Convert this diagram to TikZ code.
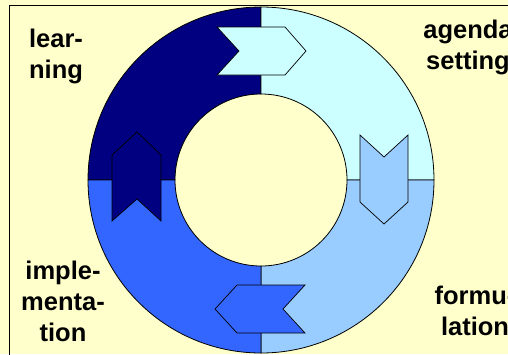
\documentclass[tikz,border=0pt]{standalone}
\usepackage{fontspec}
\setmainfont{Liberation Sans}
\usetikzlibrary{positioning}
\definecolor{paper}{HTML}{FFFFCC}
\definecolor{navyq}{HTML}{000080}
\definecolor{cyanq}{HTML}{CCFFFF}
\definecolor{skyq}{HTML}{99CCFF}
\definecolor{blueq}{HTML}{3366FF}
\tikzset{
  sector/.style={draw=black, line width=0.8pt},
  chevron/.style={draw=black, line width=0.7pt, line join=miter},
  phase/.style={font=\bfseries\fontsize{25.5}{31}\selectfont, align=center, inner sep=0pt, text=black}
}

\begin{document}
\begin{tikzpicture}[x=1pt, y=-1pt]
  \useasboundingbox (0,0) rectangle (508,354);
  \clip (0,0) rectangle (508,354);
  \fill[paper] (0,0) rectangle (508,354);
  \draw[line width=0.8pt] (9,5) rectangle (530,380);

  % ring quadrants
  \draw[sector, fill=navyq] (88,180) arc[start angle=180, end angle=270, radius=173] -- (261,94) arc[start angle=270, end angle=180, radius=86] -- cycle;
  \draw[sector, fill=cyanq] (261,7) arc[start angle=270, end angle=360, radius=173] -- (347,180) arc[start angle=360, end angle=270, radius=86] -- cycle;
  \draw[sector, fill=skyq] (434,180) arc[start angle=0, end angle=90, radius=173] -- (261,266) arc[start angle=90, end angle=0, radius=86] -- cycle;
  \draw[sector, fill=blueq] (261,353) arc[start angle=90, end angle=180, radius=173] -- (175,180) arc[start angle=180, end angle=90, radius=86] -- cycle;

  % chevrons
  \draw[chevron, fill=cyanq] (217,27) -- (285,27) -- (306,51) -- (285,75) -- (217,75) -- (239,51) -- cycle;
  \draw[chevron, fill=skyq] (360,135) -- (384,157) -- (408,135) -- (408,202) -- (384,224) -- (360,202) -- cycle;
  \draw[chevron, fill=blueq] (305,285) -- (283,309) -- (305,333) -- (237,333) -- (215,309) -- (237,285) -- cycle;
  \draw[chevron, fill=navyq] (112,155) -- (137,132) -- (161,155) -- (161,221) -- (137,199) -- (112,221) -- cycle;

  % phase labels
  \node[phase] (learn) at (56,56) {lear-\\ning};
  \node[phase] (agenda) at (468,47) {agenda\\setting};
  \node[phase] (formul) at (475,311) {formu-\\lation};
  \node[phase] (implem) at (63,301) {imple-\\menta-\\tion};
\end{tikzpicture}
\end{document}
